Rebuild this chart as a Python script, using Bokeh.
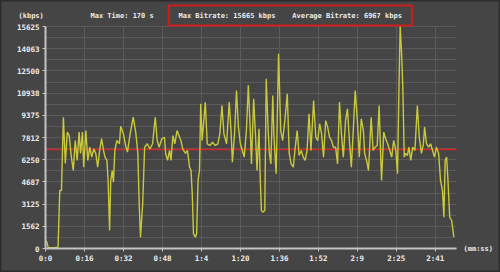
from bokeh.plotting import figure
from bokeh.models import FixedTicker, Label, Range1d
from bokeh.embed import file_html
from bokeh.resources import INLINE

# ---- data ----
times = [0.0, 0.5, 1.1, 2.5, 4.0, 5.2, 5.9, 6.6, 7.4, 8.2, 9.0, 9.8, 10.7, 11.5, 12.3, 13.1,
         13.9, 14.5, 15.3, 15.8, 16.7, 17.5, 18.3, 19.1, 20.0, 20.8, 21.6, 22.4, 23.2, 24.0,
         24.6, 25.4, 25.9, 26.5, 27.0, 27.6, 28.1, 28.7, 29.5, 30.6, 31.1, 32.2, 33.2, 33.9,
         35.0, 36.3, 37.4, 38.2, 38.8, 39.3, 40.2, 41.0, 42.1, 43.2, 44.3, 45.4, 46.2, 47.0,
         48.1, 49.2, 49.7, 50.5, 51.3, 51.9, 52.7, 53.5, 54.4, 55.2, 56.0, 56.8, 57.9, 58.7,
         59.6, 60.2, 60.7, 61.2, 62.0, 62.5, 63.1, 63.7, 64.2, 64.8, 66.1, 66.9, 68.0, 69.1,
         70.2, 71.3, 72.1, 73.0, 73.8, 74.9, 76.0, 76.8, 77.3, 78.2, 79.0, 79.8, 80.6, 81.4,
         82.2, 83.1, 83.9, 84.7, 85.2, 86.1, 86.9, 87.5, 88.3, 88.8, 89.3, 89.9, 90.7, 91.3,
         92.1, 92.6, 93.2, 94.0, 94.5, 95.4, 96.4, 97.3, 98.1, 99.0, 100.0, 100.8, 101.6,
         102.5, 103.3, 104.1, 104.9, 105.8, 106.6, 107.4, 108.2, 109.0, 109.8, 110.9, 111.8,
         112.6, 113.4, 114.2, 115.0, 115.9, 116.7, 117.5, 118.3, 119.1, 120.0, 120.8, 121.6,
         122.4, 123.2, 124.1, 124.9, 125.7, 126.5, 127.3, 128.1, 129.0, 129.8, 130.6, 131.5,
         132.0, 132.8, 133.6, 134.7, 135.5, 136.3, 137.2, 138.0, 138.6, 139.0, 139.9, 140.7,
         141.5, 142.4, 143.2, 144.0, 144.9, 145.6, 146.2, 146.7, 147.3, 147.8, 148.4, 148.9,
         149.7, 150.3, 151.1, 151.9, 152.8, 153.8, 154.6, 155.5, 156.3, 156.8, 157.6, 158.5,
         159.3, 160.1, 160.9, 161.7, 162.6, 163.4, 164.2, 164.8, 165.3, 165.9, 166.4, 167.2,
         168.0, 168.9]
bitrate = [520, 480, 80, 60, 70, 90, 4080, 4080, 9240, 5980, 8190, 7950, 6430, 5490, 7600, 6200,
           8190, 6690, 8190, 5720, 8300, 6200, 7130, 6430, 7000, 6690, 5720, 6900, 7740, 6900,
           6430, 6200, 4790, 1270, 4790, 5490, 4670, 6900, 7600, 7370, 8600, 8070, 7200, 6780,
           8070, 9240, 8070, 6690, 2910, 800, 3150, 7130, 7370, 7000, 7370, 9240, 7600, 7130,
           7720, 7830, 6690, 6200, 6900, 6200, 7950, 7370, 8300, 7950, 7600, 7000, 6690, 6900,
           5720, 5490, 3850, 1030, 800, 1030, 4790, 5490, 10190, 7600, 10300, 7370, 7250, 7480,
           7250, 7370, 8070, 10070, 8070, 7370, 10300, 8070, 6080, 8070, 11120, 8540, 7370, 6900,
           6430, 8300, 11480, 8300, 5950, 10540, 7830, 5490, 8420, 5020, 2680, 2560, 2680, 11950,
           8300, 6690, 5950, 10770, 7830, 5260, 13700, 8300, 7600, 9000, 10890, 6690, 5950,
           5720, 7130, 8300, 6550, 6900, 6430, 6200, 6900, 9480, 6900, 10420, 7830,
           7600, 8780, 8070, 6430, 9000, 8540, 7830, 7600, 7130, 7130, 5950, 10300,
           8070, 6430, 9000, 9830, 7600, 5720, 8300, 11120, 9000, 6430, 9130, 8300,
           6690, 6200, 5490, 9240, 6900, 7130, 7250, 10070, 6690, 4790, 8190, 7720,
           7370, 6900, 6430, 7600, 6900, 5260, 11240, 15665, 13700, 11240, 6430, 6690,
           6550, 7130, 6200, 7130, 6900, 10070, 7830, 6690, 7370, 8540, 7370, 7130,
           7370, 6900, 6430, 7130, 6690, 4790, 4080, 2200, 6200, 6430, 5020, 2200,
           1970, 800]
avg_bitrate = 6967
max_bitrate = 15665
max_time = 170
y_max = 15625

y_ticks = [0, 1562.5, 3125, 4687.5, 6250, 7812.5, 9375, 10937.5, 12500, 14062.5, 15625]
y_labels = ["0", "1562", "3125", "4687", "6250", "7812", "9375", "10938", "12500", "14063", "15625"]
x_ticks = [0, 16.125, 32.25, 48.375, 64.5, 80.625, 96.75, 112.875, 129.0, 145.125, 161.25]
x_labels = ["0:0", "0:16", "0:32", "0:48", "1:4", "1:20", "1:36", "1:52", "2:9", "2:25", "2:41"]

BG = "#454545"
GRID = "#5a5a5a"
AXIS = "#c4c4c4"
TXT = "#ececec"
FONT = "DejaVu Sans Mono"
FS = "7.5px"
HFS = "7px"

# frame covers the whole canvas; plot area: x 45..456 px, y 26..248 px
W, H = 500, 272
L, R, T, B = 45, 456, 26, 248
kx = (R - L) / max_time
ky = (B - T) / y_max
x_range = Range1d(-L / kx, (W - L) / kx)
y_range = Range1d(-(H - B) / ky, B / ky)

p = figure(width=W, height=H, output_backend="svg", toolbar_location=None,
           x_range=x_range, y_range=y_range, min_border=0)
p.background_fill_color = BG
p.border_fill_color = BG
p.outline_line_color = "#2c2c2c"
p.outline_line_width = 2

p.xaxis.ticker = FixedTicker(ticks=x_ticks)
p.xaxis.major_label_overrides = {t: l for t, l in zip(x_ticks, x_labels)}
p.yaxis.ticker = FixedTicker(ticks=y_ticks, minor_ticks=[k * 781.25 for k in range(21)])
p.yaxis.major_label_overrides = {t: l for t, l in zip(y_ticks, y_labels)}
p.xaxis.fixed_location = 0
p.yaxis.fixed_location = 0
p.xaxis.bounds = (0, max_time)
p.yaxis.bounds = (0, y_max)

for ax in (p.xaxis, p.yaxis):
    ax.axis_line_color = AXIS
    ax.axis_line_width = 2
    ax.major_tick_line_color = AXIS
    ax.major_tick_out = 3
    ax.major_tick_in = 0
    ax.minor_tick_line_color = None
    ax.major_label_text_color = TXT
    ax.major_label_text_font = FONT
    ax.major_label_text_font_size = FS
    ax.major_label_text_font_style = "bold"
    ax.major_label_standoff = 2

p.xgrid.grid_line_color = GRID
p.xgrid.bounds = (0, max_time)
p.xgrid.cross_bounds = (0, y_max)
p.ygrid.grid_line_color = GRID
p.ygrid.minor_grid_line_color = GRID
p.ygrid.bounds = (-1, y_max + 1)
p.ygrid.cross_bounds = (0, max_time)

p.line([0, max_time], [avg_bitrate, avg_bitrate], line_color="#d42424", line_width=1.5)
p.line(times, bitrate, line_color="#c9c93c", line_width=1.4)

head_y = (B - 15) / ky
NB = "\u00a0"

def lab(x, y, text, **kw):
    p.add_layout(Label(x=x, y=y, text=text, text_font=FONT, text_font_size=HFS,
                       text_font_style="bold", text_color=TXT, text_baseline="middle", **kw))

lab((18 - L) / kx, head_y, "(kbps)")
lab((90 - L) / kx, head_y, f"Max{NB}Time:{NB}{max_time}{NB}s")
lab((463 - L) / kx, 0, "(mm:ss)")
header = f"Max Bitrate: {max_bitrate} kbps    Average Bitrate: {avg_bitrate} kbps"
lab((168 - L) / kx, head_y, header.replace(" ", NB),
    border_line_color="#d01c1c", border_line_width=2, padding=(10, 6))

open("out.html", "w").write(file_html(p, INLINE))
